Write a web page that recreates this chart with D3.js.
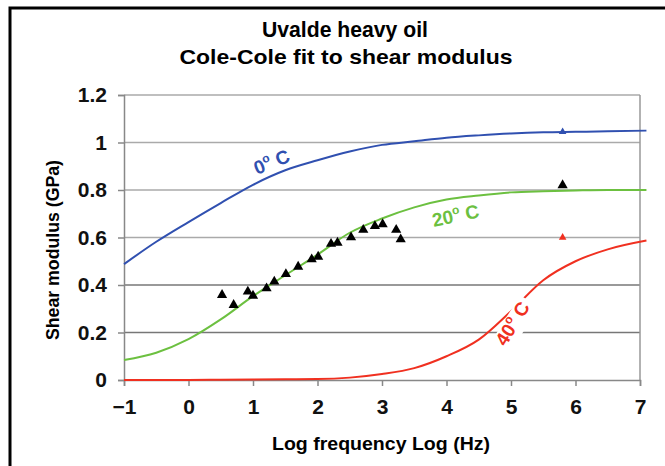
<!DOCTYPE html>
<html>
<head>
<meta charset="utf-8">
<script src="https://cdn.jsdelivr.net/npm/d3@7"></script>
<style>
  body { margin: 0; background: #fff; }
  text { font-family: "Liberation Sans", Arial, sans-serif; font-weight: bold; }
  .tick text { font-size: 21px; }
</style>
</head>
<body>
<div id="chart"></div>
<script>
// curve values (log frequency -> shear modulus GPa)
var fitX   = [-1, -0.5, 0, 0.5, 1, 1.5, 2, 2.5, 3, 3.5, 4, 4.5, 5, 5.5, 6, 6.5, 7.1];
var blue0  = [0.488, 0.582, 0.665, 0.745, 0.822, 0.883, 0.925, 0.962, 0.99, 1.005, 1.02, 1.03, 1.038, 1.043, 1.045, 1.047, 1.05];
var green20 = [0.084, 0.115, 0.172, 0.255, 0.353, 0.441, 0.528, 0.62, 0.68, 0.727, 0.76, 0.777, 0.79, 0.795, 0.798, 0.8, 0.8];
var red40  = [0, 0, 0, 0.001, 0.002, 0.003, 0.004, 0.01, 0.025, 0.05, 0.10, 0.17, 0.29, 0.42, 0.50, 0.55, 0.587];

// measured data (black triangles)
var dataX = [0.52, 0.70, 0.92, 1.0, 1.21, 1.33, 1.51, 1.70, 1.91, 2.01, 2.21, 2.31, 2.52, 2.71, 2.89, 3.01, 3.22, 3.29, 5.8];
var dataY = [0.358, 0.316, 0.372, 0.355, 0.386, 0.414, 0.446, 0.477, 0.508, 0.519, 0.573, 0.578, 0.601, 0.632, 0.648, 0.656, 0.632, 0.592, 0.82];

// high-frequency limit markers at 5.8
var limX = [5.8, 5.8];
var limY = [1.045, 0.60];

var xTicks = [-1, 0, 1, 2, 3, 4, 5, 6, 7];
var yTicks = [0, 0.2, 0.4, 0.6, 0.8, 1, 1.2];

var W = 665, H = 466;
var margin = {top: 95, left: 124, right: 25, bottom: 86};

var svg = d3.select("#chart").append("svg")
    .attr("width", W)
    .attr("height", H);

// outer frame (only top and left visible)
svg.append("path")
    .attr("d", "M10,466 L10,8 L665,8")
    .attr("fill", "none")
    .attr("stroke", "#000")
    .attr("stroke-width", 3);

// titles
svg.append("text")
    .attr("x", 345).attr("y", 37)
    .attr("text-anchor", "middle")
    .attr("textLength", 166).attr("lengthAdjust", "spacingAndGlyphs")
    .style("font-size", "22px")
    .text("Uvalde heavy oil");
svg.append("text")
    .attr("x", 346).attr("y", 64)
    .attr("text-anchor", "middle")
    .attr("textLength", 333).attr("lengthAdjust", "spacingAndGlyphs")
    .style("font-size", "21px")
    .text("Cole-Cole fit to shear modulus");

var g = svg.append("g")
    .attr("transform", "translate(" + margin.left + "," + margin.top + ")");

var x = d3.scaleLinear().domain([-1, 7]).range([0, 516]);
var y = d3.scaleLinear().domain([0, 1.2]).range([285, 0]);

// gridlines
g.selectAll(".grid")
  .data(yTicks.filter(function(d) { return d > 0; }))
  .enter().append("line")
    .attr("x1", 0).attr("x2", x(7))
    .attr("y1", function(d) { return y(d); })
    .attr("y2", function(d) { return y(d); })
    .attr("stroke", function(d) { return d < 0.5 ? "#777" : "#aaa"; })
    .attr("stroke-width", 1.5);

// right border
g.append("line")
    .attr("x1", x(7)).attr("x2", x(7))
    .attr("y1", 0).attr("y2", y(0))
    .attr("stroke", "#999").attr("stroke-width", 1.5);

// axes
var yAxis = g.append("g")
    .call(d3.axisLeft(y).tickValues(yTicks).tickSize(6).tickPadding(11)
      .tickFormat(function(d) { return d3.format("")(+d.toFixed(1)); }));
var xAxis = g.append("g")
    .attr("transform", "translate(0," + y(0) + ")")
    .call(d3.axisBottom(x).tickValues(xTicks).tickSize(6).tickPadding(13));

[xAxis, yAxis].forEach(function(a) {
  a.attr("font-size", 21).attr("font-family", null);
  a.select(".domain").attr("stroke", "#888").attr("stroke-width", 1.5);
  a.selectAll(".tick line").attr("stroke", "#888").attr("stroke-width", 1.5);
  a.selectAll(".tick text").attr("fill", "#111");
});

// axis labels
svg.append("text")
    .attr("x", 381).attr("y", 450)
    .attr("text-anchor", "middle")
    .attr("textLength", 218).attr("lengthAdjust", "spacingAndGlyphs")
    .style("font-size", "19px")
    .text("Log frequency Log (Hz)");
svg.append("text")
    .attr("transform", "translate(59,250) rotate(-90)")
    .attr("text-anchor", "middle")
    .attr("textLength", 180).attr("lengthAdjust", "spacingAndGlyphs")
    .style("font-size", "18px")
    .text("Shear modulus (GPa)");

// fitted curves
var line = d3.line()
    .x(function(d) { return x(d[0]); })
    .y(function(d) { return y(d[1]); })
    .curve(d3.curveMonotoneX);

var curves = [
  {vals: blue0, color: "#3050b0"},
  {vals: green20, color: "#6cc040"},
  {vals: red40, color: "#f03020"}
];
curves.forEach(function(c) {
  g.append("path")
    .datum(fitX.map(function(v, i) { return [v, c.vals[i]]; }))
    .attr("fill", "none")
    .attr("stroke", c.color)
    .attr("stroke-width", 2)
    .attr("d", line);
});

// curve labels
function label(txt, cx, cy, rot, color, bg) {
  var t = svg.append("g").attr("transform", "translate(" + cx + "," + cy + ") rotate(" + rot + ")");
  if (bg) t.append("rect").attr("x", -28).attr("y", -15).attr("width", 56).attr("height", 22).attr("fill", "#fff");
  var tx = t.append("text").attr("text-anchor", "middle").attr("fill", color).style("font-size", "19px");
  tx.append("tspan").text(txt);
  tx.append("tspan").attr("dy", -8).style("font-size", "12px").text("o");
  tx.append("tspan").attr("dy", 8).text(" C");
}
label("0", 274, 168, -22, "#3050b0", false);
label("20", 457, 222, -12, "#6cc040", false);
label("40", 518, 327, -58, "#f03020", true);

// data triangles
var tri = d3.symbol().type(d3.symbolTriangle);
g.selectAll(".pt")
  .data(dataX.map(function(v, i) { return [v, dataY[i]]; }))
  .enter().append("path")
    .attr("transform", function(d) { return "translate(" + x(d[0]) + "," + y(d[1]) + ")"; })
    .attr("d", tri.size(45)())
    .attr("fill", "#000");

var limColors = ["#3050b0", "#f03020"];
g.selectAll(".lim")
  .data(limX.map(function(v, i) { return [v, limY[i]]; }))
  .enter().append("path")
    .attr("transform", function(d) { return "translate(" + x(d[0]) + "," + y(d[1]) + ")"; })
    .attr("d", d3.symbol().type(d3.symbolTriangle).size(25)())
    .attr("fill", function(d, i) { return limColors[i]; });
</script>
</body>
</html>
